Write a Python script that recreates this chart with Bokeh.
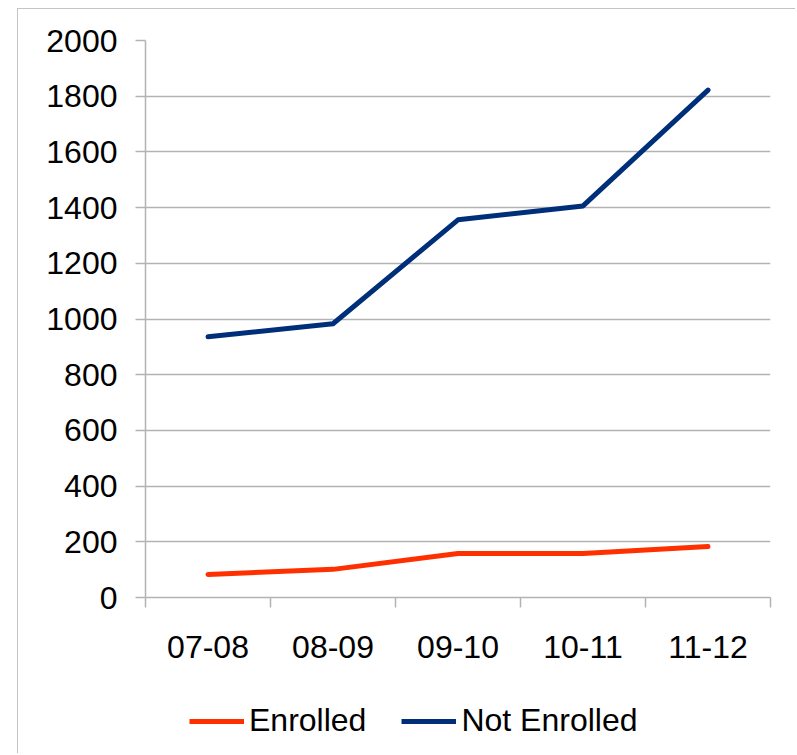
from bokeh.plotting import figure
from bokeh.layouts import column
from bokeh.models import FixedTicker, Legend, LegendItem, Range1d
from bokeh.embed import file_html
from bokeh.resources import INLINE

categories = ["07-08", "08-09", "09-10", "10-11", "11-12"]
enrolled = [83, 101, 158, 158, 183]
not_enrolled = [936, 983, 1356, 1406, 1822]
y_ticks = [0, 200, 400, 600, 800, 1000, 1200, 1400, 1600, 1800, 2000]
series_names = ["Enrolled", "Not Enrolled"]

FONT = "Liberation Sans"
FS = "32px"
GRID = "#b3b3b3"
RED = "#ff3000"
NAVY = "#002f7a"
x = [i + 0.5 for i in range(len(categories))]

p = figure(frame_width=625, frame_height=557, output_backend="svg", toolbar_location=None,
           x_range=Range1d(0, len(categories)), y_range=Range1d(y_ticks[0], y_ticks[-1]),
           min_border_left=127, min_border_right=25, min_border_top=31, min_border_bottom=80)
p.outline_line_color = None
p.background_fill_color = "white"
p.border_fill_color = "white"
p.xgrid.grid_line_color = None
p.ygrid.ticker = FixedTicker(ticks=y_ticks)
p.ygrid.grid_line_color = GRID
p.ygrid.grid_line_width = 1.5

yax = p.yaxis[0]
yax.ticker = FixedTicker(ticks=y_ticks)
yax.axis_line_color = GRID
yax.axis_line_width = 1.5
yax.major_tick_line_color = GRID
yax.major_tick_line_width = 1.5
yax.major_tick_out = 10
yax.major_tick_in = 0
yax.minor_tick_line_color = None
yax.major_label_text_font = FONT
yax.major_label_text_font_size = FS
yax.major_label_text_color = "black"
yax.major_label_standoff = 18

xax = p.xaxis[0]
xax.ticker = FixedTicker(ticks=x, minor_ticks=list(range(len(categories) + 1)))
xax.major_label_overrides = {xi: c for xi, c in zip(x, categories)}
xax.axis_line_color = GRID
xax.axis_line_width = 1.5
xax.major_tick_line_color = None
xax.major_tick_out = 10
xax.major_tick_in = 0
xax.minor_tick_line_color = GRID
xax.minor_tick_line_width = 1.5
xax.minor_tick_out = 10
xax.minor_tick_in = 0
xax.major_label_text_font = FONT
xax.major_label_text_font_size = FS
xax.major_label_text_color = "black"
xax.major_label_standoff = 28

p.line(x, enrolled, line_color=RED, line_width=5, line_join="round", line_cap="round")
p.line(x, not_enrolled, line_color=NAVY, line_width=5, line_join="round", line_cap="round")

# legend strip below the chart (its lines lie outside its visible range)
p2 = figure(width=777, height=76, output_backend="svg", toolbar_location=None,
            x_axis_location=None, y_axis_location=None,
            x_range=Range1d(0, len(categories)), y_range=Range1d(-2 * y_ticks[-1], -y_ticks[-1]),
            min_border=0)
p2.outline_line_color = None
p2.grid.visible = False
p2.background_fill_color = "white"
p2.border_fill_color = "white"
l1 = p2.line(x, enrolled, line_color=RED, line_width=5)
l2 = p2.line(x, not_enrolled, line_color=NAVY, line_width=5)

legend = Legend(items=[LegendItem(label=series_names[0], renderers=[l1]),
                       LegendItem(label=series_names[1], renderers=[l2])],
                orientation="horizontal", location=(44, 14),
                border_line_color=None, background_fill_alpha=0,
                label_text_font=FONT, label_text_font_size=FS, label_text_color="black",
                glyph_width=55, glyph_height=36, label_height=36, label_standoff=5, spacing=35,
                padding=0, margin=0)
p2.add_layout(legend, "center")

layout = column(p, p2, spacing=0)
layout.margin = (8, 0, 0, 17)
layout.styles = {"border-left": "1px solid #c4c4c4", "border-top": "1px solid #c4c4c4"}

open("out.html", "w").write(file_html(layout, INLINE))
